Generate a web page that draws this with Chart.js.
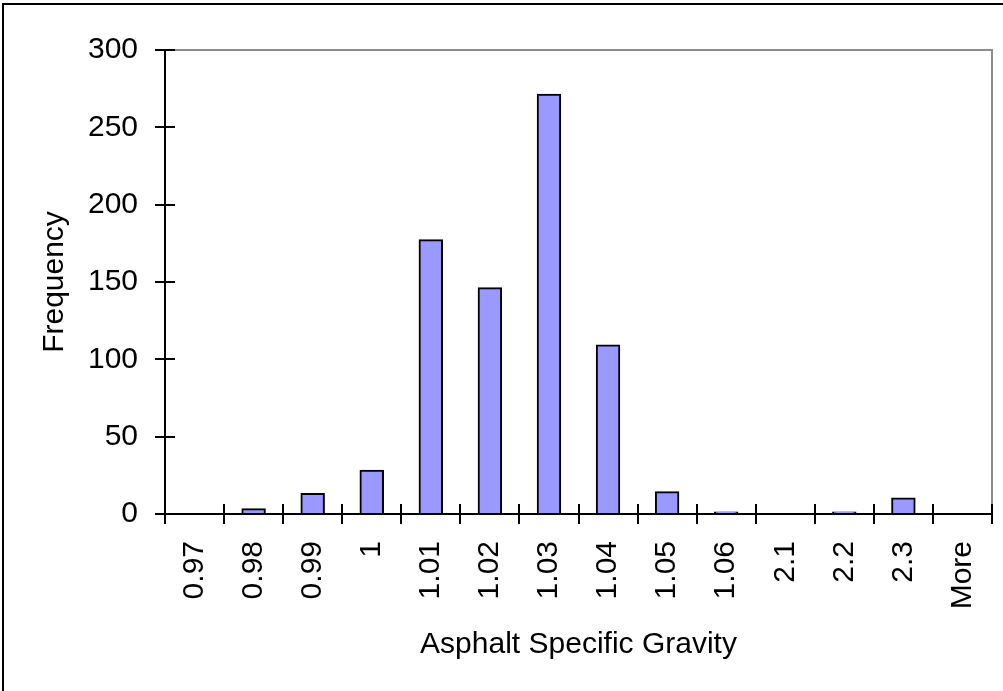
<!DOCTYPE html>
<html>
<head>
<meta charset="utf-8">
<script src="https://cdn.jsdelivr.net/npm/chart.js@4"></script>
<style>
  body { margin: 0; background: #fff; }
  canvas { display: block; }
</style>
</head>
<body>
<canvas id="histChart" width="1003" height="691"></canvas>
<script>
// Histogram data
const bins = ['0.97', '0.98', '0.99', '1', '1.01', '1.02', '1.03', '1.04', '1.05', '1.06', '2.1', '2.2', '2.3', 'More'];
const frequency = [0, 3, 13, 28, 177, 146, 271, 109, 14, 1, 0, 1, 10, 0];
const yTicks = [0, 50, 100, 150, 200, 250, 300];

const fontFamily = '"Liberation Sans", Arial, sans-serif';

// Excel-like frame: grey plot border, black axes, crossing tick marks
const excelAxes = {
    id: 'excelAxes',
    beforeDraw(chart) {
        const ctx = chart.ctx;
        ctx.save();
        ctx.fillStyle = '#fff';
        ctx.fillRect(0, 0, chart.width, chart.height);
        // outer chart border (only top/left visible in the picture)
        ctx.strokeStyle = '#000';
        ctx.lineWidth = 2;
        ctx.beginPath();
        ctx.moveTo(3, chart.height);
        ctx.lineTo(3, 4);
        ctx.lineTo(chart.width, 4);
        ctx.stroke();
        ctx.restore();
    },
    afterDatasetsDraw(chart) {
        const { ctx, chartArea: a, scales: { x, y } } = chart;
        const zeroY = y.getPixelForValue(0);
        ctx.save();
        ctx.lineWidth = 2;

        // plot area border (top / right)
        ctx.strokeStyle = '#8c8c8c';
        ctx.beginPath();
        ctx.moveTo(a.left, a.top);
        ctx.lineTo(a.right, a.top);
        ctx.lineTo(a.right, a.bottom);
        ctx.stroke();

        ctx.strokeStyle = '#000';
        ctx.beginPath();
        // y axis + ticks
        ctx.moveTo(a.left, a.top);
        ctx.lineTo(a.left, a.bottom);
        yTicks.forEach(v => {
            const py = Math.round(y.getPixelForValue(v));
            ctx.moveTo(a.left - 10, py);
            ctx.lineTo(a.left + 10, py);
        });
        // x axis + ticks between categories
        ctx.moveTo(a.left - 10, zeroY);
        ctx.lineTo(a.right, zeroY);
        for (let i = 0; i <= bins.length; i++) {
            let px;
            if (i === 0) px = a.left;
            else if (i === bins.length) px = a.right;
            else px = (x.getPixelForValue(i - 1) + x.getPixelForValue(i)) / 2;
            px = Math.round(px);
            ctx.moveTo(px, zeroY - 10);
            ctx.lineTo(px, zeroY + 10);
        }
        ctx.stroke();
        ctx.restore();
    }
};

const ctx = document.getElementById('histChart').getContext('2d');
const histChart = new Chart(ctx, {
    type: 'bar',
    data: {
        labels: bins,
        datasets: [{
            label: 'Frequency',
            data: frequency,
            backgroundColor: '#9999ff',
            borderColor: '#000',
            borderWidth: 2,
            borderSkipped: false,
            inflateAmount: 1,
            categoryPercentage: 1,
            barPercentage: 0.38
        }]
    },
    options: {
        responsive: false,
        animation: false,
        devicePixelRatio: 1,
        layout: {
            padding: { top: 50, right: 11, left: 0, bottom: 0 }
        },
        plugins: {
            legend: { display: false },
            tooltip: { enabled: false }
        },
        scales: {
            x: {
                offset: true,
                grid: { display: false, drawTicks: false },
                border: { display: false },
                ticks: {
                    color: '#000',
                    font: { family: fontFamily, size: 30 },
                    minRotation: 90,
                    maxRotation: 90,
                    padding: 27,
                    autoSkip: false
                },
                title: {
                    display: true,
                    text: 'Asphalt Specific Gravity',
                    color: '#000',
                    font: { family: fontFamily, size: 30 },
                    padding: { top: 0, bottom: 28 }
                },
                afterFit(scale) {
                    scale.height = 177;
                    scale.paddingLeft = 0;
                    scale.paddingRight = 0;
                }
            },
            y: {
                min: 0,
                max: 300,
                grid: { display: false, drawTicks: false },
                border: { display: false },
                ticks: {
                    stepSize: 50,
                    color: '#000',
                    font: { family: fontFamily, size: 30 },
                    padding: 27
                },
                title: {
                    display: true,
                    text: 'Frequency',
                    color: '#000',
                    font: { family: fontFamily, size: 30 },
                    padding: { top: 37, bottom: 0 }
                },
                afterFit(scale) {
                    scale.width = 165;
                    scale.paddingTop = 0;
                    scale.paddingBottom = 0;
                }
            }
        }
    },
    plugins: [excelAxes]
});
</script>
</body>
</html>
